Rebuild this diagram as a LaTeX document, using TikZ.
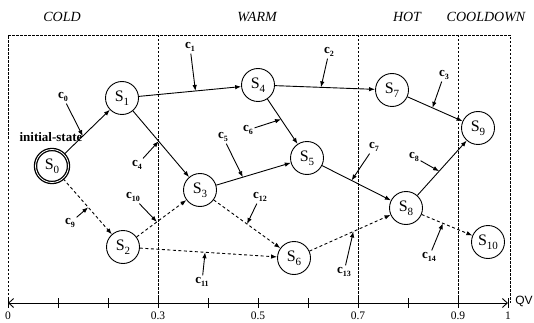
\documentclass[tikz,border=0pt]{standalone}
\usepackage{fontspec}
\setmainfont{Liberation Serif}
\newfontfamily\qvfont{Liberation Sans}
\usetikzlibrary{arrows.meta,calc}
\newcommand\lowidx[2]{\raisebox{-0.28em}{\fontsize{#1}{#1}\selectfont #2}}
\newcommand\stlab[1]{S\lowidx{11}{#1}}
\newcommand\cnlab[1]{c\lowidx{8}{#1}}
\begin{document}
\begin{tikzpicture}[x=1pt,y=-1pt,
  state/.style={circle,draw,line width=0.9pt,minimum size=33pt,inner sep=0pt,font=\fontsize{16}{16}\selectfont},
  initstate/.style={state,line width=1.3pt,double,double distance=0.8pt,minimum size=33pt},
  cond/.style={font=\bfseries\fontsize{13}{13}\selectfont,inner sep=1.5pt},
  hdr/.style={font=\itshape\fontsize{14}{14}\selectfont},
  axlab/.style={font=\fontsize{11.5}{11.5}\selectfont,inner sep=0pt},
  tip/.style={-{Latex[length=6pt,width=4.5pt]}},
  tr/.style={line width=0.9pt,tip},
  trd/.style={tr,dash pattern=on 3pt off 2.5pt},
  carr/.style={line width=0.9pt,tip},
  region/.style={line width=0.8pt,dash pattern=on 2.5pt off 1.5pt},
  ]
\useasboundingbox (0,0) rectangle (534,323);

% regions frame
\draw[region] (8,303) -- (8,35) -- (510,35) -- (510,303);
\draw[region] (158,35) -- (158,303);
\draw[region] (358,35) -- (358,303);
\draw[region] (458,35) -- (458,303);

% headers
\node[hdr] (hcold) at (62,17) {COLD};
\node[hdr] (hwarm) at (257,17) {WARM};
\node[hdr] (hhot) at (407,17) {HOT};
\node[hdr] (hcool) at (486,17) {COOLDOWN};

% axis
\coordinate (ax0) at (8,303);
\coordinate (ax1) at (508,303);
\draw[line width=0.9pt,{Straight Barb[length=5pt,width=9pt]}-{Straight Barb[length=5pt,width=9pt]}] (ax0) -- (ax1);
\foreach \i in {0,...,10} {\draw[line width=0.9pt] (8+50*\i,298) -- (8+50*\i,308);}
\node[axlab] (l0) at (8,316) {0};
\node[axlab] (l3) at (158,316) {0.3};
\node[axlab] (l5) at (258,316) {0.5};
\node[axlab] (l7) at (358,316) {0.7};
\node[axlab] (l9) at (458,316) {0.9};
\node[axlab] (l10) at (508,316) {1};
\node[font=\qvfont\fontsize{12}{12}\selectfont,inner sep=0pt] (qv) at (524,301) {QV};

% states
\node[initstate] (S0) at (52,166) {\stlab{0}};
\node[font=\bfseries\fontsize{13}{13}\selectfont,inner sep=0pt] (init) at (51,137) {initial-state};
\node[state] (S1) at (122,98) {\stlab{1}};
\node[state] (S2) at (123,247) {\stlab{2}};
\node[state] (S3) at (200,190) {\stlab{3}};
\node[state] (S4) at (258,85) {\stlab{4}};
\node[state] (S5) at (307,158) {\stlab{5}};
\node[state] (S6) at (294,258) {\stlab{6}};
\node[state] (S7) at (392,90) {\stlab{7}};
\node[state] (S8) at (406,208) {\stlab{8}};
\node[state] (S9) at (478,128) {\stlab{9}};
\node[state] (S10) at (488,242) {\stlab{10}};

% transitions
\draw[tr] (S0) -- (S1);
\draw[trd] (S0) -- (S2);
\draw[tr] (S1) -- (S4);
\draw[tr] (S1) -- (S3);
\draw[trd] (S2) -- (S3);
\draw[trd] (S2) -- (S6);
\draw[tr] (S3) -- (S5);
\draw[trd] (S3) -- (S6);
\draw[tr] (S4) -- (S5);
\draw[tr] (S4) -- (S7);
\draw[tr] (S5) -- (S8);
\draw[trd] (S6) -- (S8);
\draw[tr] (S7) -- (S9);
\draw[tr] (S8) -- (S9);
\draw[trd] (S8) -- (S10);

% condition points on transitions
\coordinate (m0) at ($(S0)!0.44!(S1)$);
\coordinate (m9) at ($(S0)!0.51!(S2)$);
\coordinate (m1) at ($(S1)!0.54!(S4)$);
\coordinate (m4) at ($(S1)!0.47!(S3)$);
\coordinate (m10) at ($(S2)!0.44!(S3)$);
\coordinate (m11) at ($(S2)!0.48!(S6)$);
\coordinate (m5) at ($(S3)!0.40!(S5)$);
\coordinate (m12) at ($(S3)!0.50!(S6)$);
\coordinate (m6) at ($(S4)!0.47!(S5)$);
\coordinate (m2) at ($(S4)!0.47!(S7)$);
\coordinate (m7) at ($(S5)!0.45!(S8)$);
\coordinate (m13) at ($(S6)!0.53!(S8)$);
\coordinate (m3) at ($(S7)!0.47!(S9)$);
\coordinate (m8) at ($(S8)!0.46!(S9)$);
\coordinate (m14) at ($(S8)!0.45!(S10)$);

% condition labels
\node[cond] (c0) at (63,97) {\cnlab{0}};
\node[cond] (c1) at (190,47) {\cnlab{1}};
\node[cond] (c2) at (329,52) {\cnlab{2}};
\node[cond] (c3) at (444,75) {\cnlab{3}};
\node[cond] (c4) at (137,165) {\cnlab{4}};
\node[cond] (c5) at (223,137) {\cnlab{5}};
\node[cond] (c6) at (248,130) {\cnlab{6}};
\node[cond] (c7) at (374,147) {\cnlab{7}};
\node[cond] (c8) at (414,157) {\cnlab{8}};
\node[cond] (c9) at (70,223) {\cnlab{9}};
\node[cond] (c10) at (133,197) {\cnlab{10}};
\node[cond] (c11) at (202,282) {\cnlab{11}};
\node[cond] (c12) at (260,197) {\cnlab{12}};
\node[cond] (c13) at (344,272) {\cnlab{13}};
\node[cond] (c14) at (429,257) {\cnlab{14}};

% condition arrows
\draw[carr] (c0) -- (m0);
\draw[carr] (c1) -- (m1);
\draw[carr] (c2) -- (m2);
\draw[carr] (c3) -- (m3);
\draw[carr] (c4) -- (m4);
\draw[carr] (c5) -- (m5);
\draw[carr] (c6) -- (m6);
\draw[carr] (c7) -- (m7);
\draw[carr] (c8) -- (m8);
\draw[carr] (c9) -- (m9);
\draw[carr] (c10) -- (m10);
\draw[carr] (c11) -- (m11);
\draw[carr] (c12) -- (m12);
\draw[carr] (c13) -- (m13);
\draw[carr] (c14) -- (m14);
\end{tikzpicture}
\end{document}
